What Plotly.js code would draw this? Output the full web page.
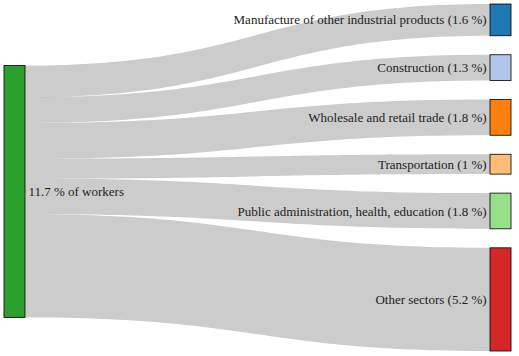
<!DOCTYPE html>
<html>
<head>
<meta charset="utf-8">
<script src="https://cdn.plot.ly/plotly-3.0.1.min.js"></script>
<style>
html,body{margin:0;padding:0;background:#fff;font-family:"Liberation Serif",serif;}
#chart{width:519px;height:356px;}
#chart text.node-label{font-family:"Liberation Serif","Times New Roman",serif !important;text-shadow:none !important;}
</style>
</head>
<body>
<div id="chart"></div>
<script>
const nodeLabels = [
  "11.7 % of workers",
  "Manufacture of other industrial products (1.6 %)",
  "Construction (1.3 %)",
  "Wholesale and retail trade (1.8 %)",
  "Transportation (1 %)",
  "Public administration, health, education (1.8 %)",
  "Other sectors (5.2 %)"
];
const nodeColors = ["#2ca02c", "#1f77b4", "#aec7e8", "#ff7f0e", "#ffbb78", "#98df8a", "#d62728"];
const nodeLineColors = ["#238023", "#19608f", "#8ba0ba", "#cc660b", "#cc9660", "#7ab26e", "#ab2020"];
const linkSource = [0, 0, 0, 0, 0, 0];
const linkTarget = [1, 2, 3, 4, 5, 6];
const linkValues = [1.6, 1.3, 1.8, 1.0, 1.8, 5.2];

const margin = {l: 14, r: 18, t: 4, b: 5};
const W = 519, H = 356;
const pad = 19;
const plotH = H - margin.t - margin.b;
const total = linkValues.reduce((a, b) => a + b, 0);
const usable = plotH - pad * (linkValues.length - 1);
const nodeY = new Array(nodeLabels.length).fill(0);
const nodeX = new Array(nodeLabels.length).fill(0.001);
let acc = 0;
linkTarget.forEach((t, i) => {
  const h = linkValues[i] / total * usable;
  nodeY[t] = (acc + h / 2) / plotH;
  nodeX[t] = 0.999;
  acc += h + pad;
});
nodeY[0] = linkTarget.reduce((s, t, i) => s + nodeY[t] * linkValues[i], 0) / total;

const data = [{
  type: "sankey",
  orientation: "h",
  arrangement: "fixed",
  node: {
    label: nodeLabels,
    color: nodeColors,
    line: {color: nodeLineColors, width: 0.8},
    pad: pad,
    thickness: 21,
    x: nodeX,
    y: nodeY
  },
  link: {
    source: linkSource,
    target: linkTarget,
    value: linkValues,
    color: "rgba(0,0,0,0.2)"
  },
  textfont: {family: "Liberation Serif", size: 13, color: "#222"}
}];

const layout = {
  width: W,
  height: H,
  margin: margin
};

Plotly.newPlot("chart", data, layout, {staticPlot: true});
</script>
</body>
</html>
